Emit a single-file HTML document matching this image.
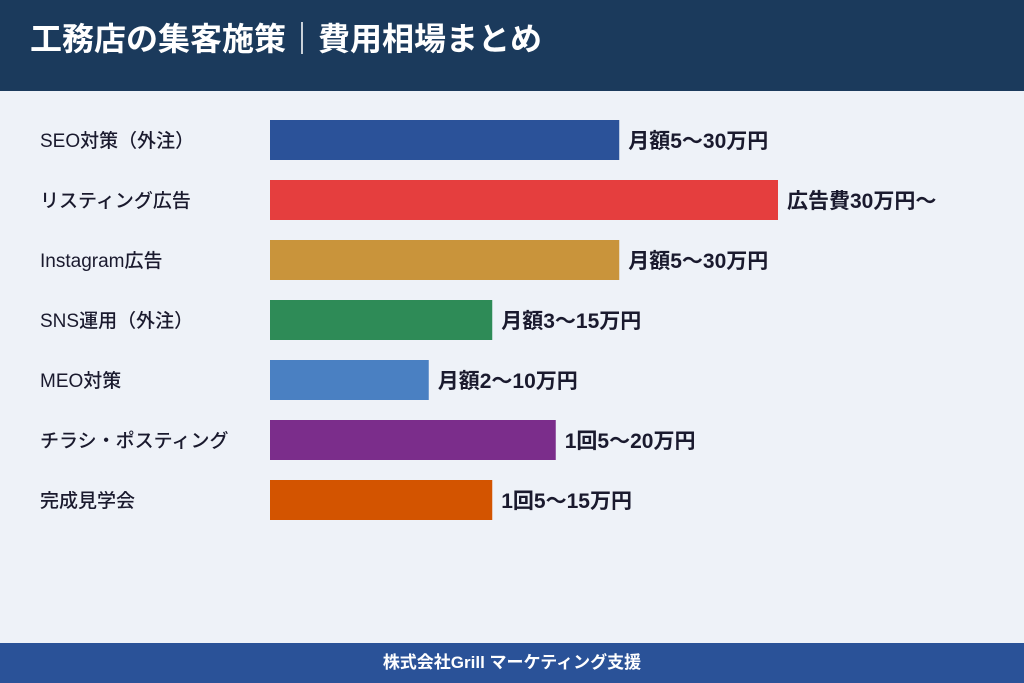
<!DOCTYPE html>
<html><head><meta charset="utf-8">
<style>
body{margin:0;width:1024px;height:683px;overflow:hidden;background:#eef2f8;font-family:"Liberation Sans","Noto Sans CJK JP",sans-serif;position:relative}
#hdr{position:absolute;left:0;top:0;width:1024px;height:91px;background:#1b3a5c}
#title{position:absolute;left:30px;top:19px;color:#fff;font-size:32px;font-weight:bold;line-height:40px;white-space:nowrap}
#ftr{position:absolute;left:0;top:643px;width:1024px;height:40px;background:#2a5298;color:#fff;font-size:17px;font-weight:bold;text-align:center;line-height:40px}
svg{position:absolute;left:0;top:0}
</style></head><body>
<div id="hdr"><div id="title">工務店の集客施策｜費用相場まとめ</div></div>
<svg id="chart" width="1024" height="643"></svg>
<div id="ftr">株式会社Grill マーケティング支援</div>
<script>
const categories=["SEO対策（外注）","リスティング広告","Instagram広告","SNS運用（外注）","MEO対策","チラシ・ポスティング","完成見学会"];
const values=[55,80,55,35,25,45,35];
const valueLabels=["月額5〜30万円","広告費30万円〜","月額5〜30万円","月額3〜15万円","月額2〜10万円","1回5〜20万円","1回5〜15万円"];
const colors=["#2b5299","#e53e3e","#c9943b","#2e8b57","#4a80c2","#7b2d8b","#d35400"];
const svg=document.getElementById('chart');
const NS='http://www.w3.org/2000/svg';
const x0=270,scale=508/80,top0=120,step=60,bh=40;
const x=v=>v*scale;
const y=i=>top0+i*step;
categories.forEach((c,i)=>{
  const t=document.createElementNS(NS,'text');
  
  
  t.setAttribute('x',40);t.setAttribute('y',y(i)+bh/2+7);
  t.setAttribute('font-size','19');t.setAttribute('font-weight','500');t.setAttribute('fill','#1a1a2e');
  t.textContent=c;svg.appendChild(t);
  const r=document.createElementNS(NS,'rect');
  
  
  r.setAttribute('x',x0);r.setAttribute('y',y(i));
  r.setAttribute('width',x(values[i]));r.setAttribute('height',bh);
  r.setAttribute('fill',colors[i]);svg.appendChild(r);
  const v=document.createElementNS(NS,'text');
  
  
  v.setAttribute('x',x0+x(values[i])+9);v.setAttribute('y',y(i)+bh/2+8);
  v.setAttribute('font-size','21');v.setAttribute('font-weight','bold');v.setAttribute('fill','#1a1a2e');
  v.textContent=valueLabels[i];svg.appendChild(v);
});
</script>
</body></html>
